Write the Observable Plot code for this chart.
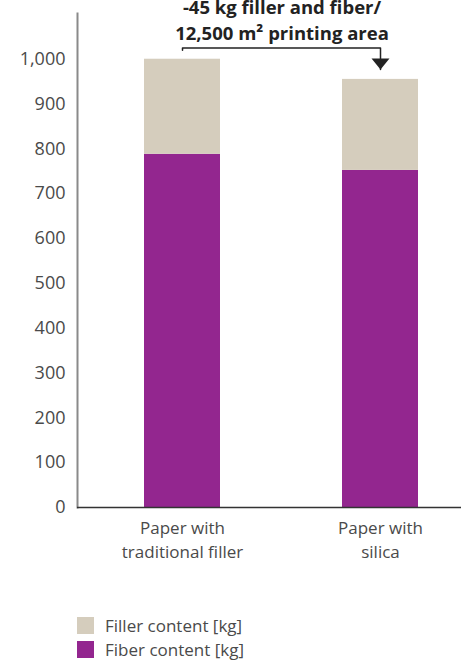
<!DOCTYPE html>
<html>
<head>
<meta charset="utf-8">
<script src="https://cdn.jsdelivr.net/npm/d3@7"></script>
<script src="https://cdn.jsdelivr.net/npm/@observablehq/plot@0.6"></script>
<style>
  html, body { margin: 0; padding: 0; background: #fff; }
  body { width: 461px; font-family: "Open Sans", sans-serif; }
  #legend { margin: 13px 0 0 77px; color: #4a4a4a; font-size: 17px; }
  #legend .row { display: flex; align-items: center; height: 24px; }
  #legend .sw { width: 17px; height: 17px; margin-right: 11px; }
</style>
</head>
<body>
<div id="chart"></div>
<div id="legend"></div>
<script>
// Paper types compared
const categories = ["Paper with\ntraditional filler", "Paper with\nsilica"];
// Mass per 12,500 m² of printing area [kg]
const fiberContent = [788, 752];
const fillerContent = [212, 203];
const seriesNames = ["Fiber content [kg]", "Filler content [kg]"];
const seriesColors = ["#93268f", "#d5cdbd"];
const yTicks = [0, 100, 200, 300, 400, 500, 600, 700, 800, 900, 1000];
// Annotation: savings bracket from first bar to second bar
const noteText = "-45 kg filler and fiber/\n12,500 m² printing area";
const bracketLevels = [1020, 1025, 1025, 977];
const bracketCats = [categories[0], categories[0], categories[1], categories[1]];

const rows = [];
categories.forEach((c, i) => {
  rows.push({cat: c, part: seriesNames[0], value: fiberContent[i]});
  rows.push({cat: c, part: seriesNames[1], value: fillerContent[i]});
});
const bracket = bracketLevels.map((v, i) => ({cat: bracketCats[i], v}));

// Downward-pointing arrowhead with its tip at the anchor point
const arrowHead = {
  draw(ctx) {
    ctx.moveTo(-9, -11);
    ctx.lineTo(9, -11);
    ctx.lineTo(0, 0);
    ctx.closePath();
  }
};

const chart = Plot.plot({
  width: 461,
  height: 600,
  marginLeft: 77,
  marginRight: 0,
  marginTop: 13,
  marginBottom: 93,
  style: {fontFamily: "Open Sans, sans-serif", fontSize: "17px", color: "#4a4a4a", background: "#fff"},
  x: {domain: categories, range: [43.5, 517.5], paddingInner: 0.618, paddingOuter: 0.5},
  y: {domain: [0, 1102]},
  color: {domain: seriesNames, range: seriesColors},
  marks: [
    Plot.barY(rows, {x: "cat", y: "value", fill: "part"}),
    Plot.frame({anchor: "left", stroke: "#8a8a8a", strokeWidth: 2}),
    Plot.ruleY([0], {stroke: "#333", strokeWidth: 1.6}),
    Plot.axisY({ticks: yTicks, tickSize: 0, tickPadding: 12, fontSize: 18, label: null, tickFormat: d3.format(",")}),
    Plot.axisX({tickSize: 0, tickPadding: 10, fontSize: 17, lineHeight: 1.4, label: null}),
    Plot.line(bracket, {x: "cat", y: "v", stroke: "#222", strokeWidth: 1.5}),
    Plot.dot([bracket[3]], {x: "cat", y: "v", symbol: arrowHead, fill: "#222", stroke: null, r: 5}),
    Plot.text([noteText], {
      x: () => categories[0], dx: 99.5, frameAnchor: "top", lineAnchor: "top", dy: -17.5,
      text: d => d, fontSize: 18.5, fontWeight: "bold", lineHeight: 1.4, fill: "#222"
    })
  ]
});
document.getElementById("chart").appendChild(chart);

// Legend: filler listed first, fiber second
const legend = d3.select("#legend");
[1, 0].forEach(i => {
  const row = legend.append("div").attr("class", "row");
  row.append("div").attr("class", "sw").style("background", seriesColors[i]);
  row.append("span").text(seriesNames[i]);
});
</script>
</body>
</html>
